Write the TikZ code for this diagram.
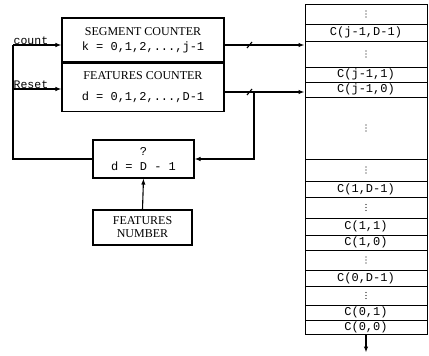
\documentclass[tikz,border=0pt]{standalone}
\usepackage{fontspec}
\setmainfont{Liberation Serif}
\setmonofont{Liberation Mono}
\usetikzlibrary{arrows.meta,positioning,calc}

\begin{document}
\begin{tikzpicture}[
    x=1pt, y=-1pt,
    every node/.style={inner sep=0pt},
    box/.style={draw, line width=1.1pt, align=center, font=\fontsize{12}{13}\selectfont},
    tt/.style={font=\ttfamily\fontsize{12}{13}\selectfont},
    cell/.style={draw, line width=1pt, minimum width=122pt, font=\ttfamily\fontsize{12}{12}\selectfont},
    arr/.style={line width=1.1pt, -{Latex[length=6pt,width=4.5pt]}},
    wire/.style={line width=1.1pt},
    sig/.style={font=\ttfamily\fontsize{11.5}{12}\selectfont, anchor=south west, inner sep=0.5pt}
]
\useasboundingbox (0,0) rectangle (429,356);

% counters
\node[box, minimum width=162pt, minimum height=44pt] (seg) at (143,40)
    {SEGMENT COUNTER\\[2pt] \texttt{k = 0,1,2,...,j-1}};
\node[box, minimum width=162pt, minimum height=48pt, below=0pt of seg] (feat)
    {FEATURES COUNTER\\[8pt] \texttt{d = 0,1,2,...,D-1}};

% comparator and features number
\node[box, minimum width=101pt, minimum height=38pt] (cmp) at (143.5,159)
    {\texttt{?}\\[2pt] \texttt{d = D - 1}};
\node[box, minimum width=99pt, minimum height=35pt] (fnum) at (142.5,227.5)
    {FEATURES\\ NUMBER};

% memory column
\foreach \t/\b/\txt [count=\i] in {
    4/24/{}, 24/41/{C(j-1,D-1)}, 41/67/{}, 67/82/{C(j-1,1)},
    82/97/{C(j-1,0)}, 97/159/{}, 159/181/{}, 181/197/{C(1,D-1)},
    197/218/{}, 218/235/{C(1,1)}, 235/250/{C(1,0)}, 250/270/{},
    270/286/{C(0,D-1)}, 286/305/{}, 305/320/{C(0,1)}, 320/334/{C(0,0)}} {
  \pgfmathsetmacro\h{\b-\t}
  \pgfmathsetmacro\c{(\t+\b)/2}
  \node[cell, minimum height=\h pt] (m\i) at (366,\c) {\txt};
}
% dots in the skipped cells
\foreach \i in {1,3,6,7,9,12,14}
  \foreach \d in {-3,0,3}
    \fill (m\i.center) ++(0,\d) circle (0.6pt);

% signal points
\coordinate (fbtop) at (13,45);
\coordinate (rst) at (13,89);
\coordinate (kout) at (224,45);
\coordinate (dout) at (224,92);
\coordinate (tap) at (254,92);

% inputs of the counters
\draw[wire] (cmp.west) -| (fbtop);
\draw[arr] (fbtop) -- (seg.west |- fbtop);
\draw[arr] (rst) -- (feat.west |- rst);
\node[sig] (cnt) at (fbtop) {count};
\node[sig] (rstl) at (rst) {Reset};

% buses into the memory
\draw[arr] (kout) -- (m3.west |- kout);
\draw[arr] (dout) -- (m5.west |- dout);
\draw[wire] (247,48) -- (252,42);
\draw[wire] (247,95) -- (252,89);

% feedback to the comparator
\draw[arr] (tap) |- (cmp.east);
\draw[arr] (fnum.north) -- (cmp.south);

% output
\draw[arr] (m16.south) -- ++(0,18);

\end{tikzpicture}
\end{document}
